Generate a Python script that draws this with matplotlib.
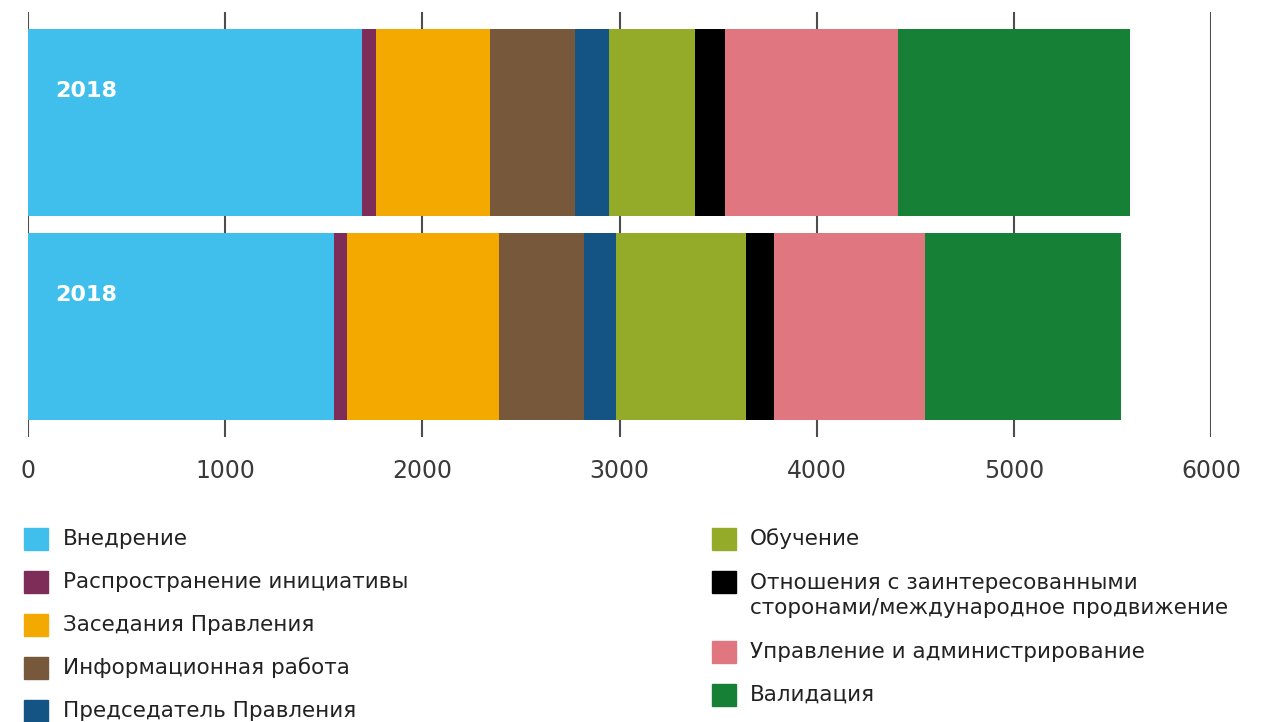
import numpy as np
import matplotlib.pyplot as plt
from matplotlib.patches import Rectangle

plt.rcParams['font.family'] = ['DejaVu Sans']

categories = [
    "Внедрение",
    "Распространение инициативы",
    "Заседания Правления",
    "Информационная работа",
    "Председатель Правления",
    "Обучение",
    "Отношения с заинтересованными\nсторонами/международное продвижение",
    "Управление и администрирование",
    "Валидация",
]
colors = ["#41BFEC", "#7D2D58", "#F4A900", "#77583A", "#135485",
          "#93AB28", "#000000", "#E07780", "#168036"]

# top bar, bottom bar
bar_labels = ["2018", "2018"]
top_values = [1692, 71, 579, 431, 175, 435, 154, 874, 1178]
bottom_values = [1552, 64, 772, 432, 160, 661, 141, 766, 997]
ticks = [0, 1000, 2000, 3000, 4000, 5000, 6000]

W, H = 1271, 722
fig = plt.figure(figsize=(W / 100, H / 100), dpi=100)
ax = fig.add_axes([28 / W, 1 - 437 / H, (1211 - 28) / W, (437 - 12) / H])

ypos = [1, 0]
for y, vals in zip(ypos, [top_values, bottom_values]):
    left = 0
    for v, c in zip(vals, colors):
        ax.barh(y, v, left=left, height=0.917, color=c, zorder=3)
        left += v

for y, lab in zip(ypos, bar_labels):
    ax.text(137, y + 0.155, lab, color='white', fontsize=16, fontweight='bold',
            va='center', ha='left', zorder=4)

ax.set_xlim(0, 6000)
ax.set_ylim(-0.5417, 1.5417)
ax.set_xticks(ticks)
ax.set_xticklabels([str(t) for t in ticks], fontsize=17, color='#3a3a3a')
ax.tick_params(axis='x', length=0, pad=16)
ax.set_yticks([])
for s in ax.spines.values():
    s.set_visible(False)
for t in ticks:
    ax.axvline(t, color='#4d4d4d', lw=1.5, zorder=1)

# legend, two columns
cols = [(24, 63, categories[:5], colors[:5]), (712, 750, categories[5:], colors[5:])]
for px, tx, labs, cs in cols:
    y = 539
    for lab, c in zip(labs, cs):
        n = lab.count('\n')
        fig.add_artist(Rectangle((px / W, 1 - (y + 11) / H), 24 / W, 22 / H,
                                 transform=fig.transFigure, color=c))
        fig.text(tx / W, 1 - (y + 13.5 * n) / H, lab, fontsize=15.5,
                 color='#222222', va='center', ha='left', linespacing=1.33)
        y += 43 + 27 * n

plt.savefig("out.png", dpi=100)
